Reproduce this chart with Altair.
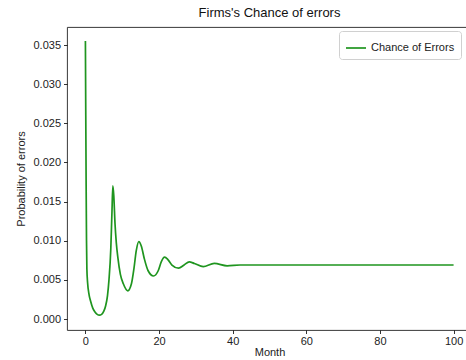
import altair as alt
import pandas as pd

months = [0, 0.1, 0.2, 0.3, 0.4, 0.6, 1.0, 1.4, 2.0, 2.6, 3.2, 3.8, 4.4, 5.0, 5.5,
          6.0, 6.4, 6.9, 7.2, 7.45, 7.7, 8.05, 8.4, 8.8, 9.5, 10.3, 11.5, 12.5,
          13.2, 13.8, 14.5, 15.2, 16.0, 17.0, 18.5, 19.8, 20.6, 21.5, 22.4, 23.5,
          25.3, 26.8, 28.2, 29.6, 32.0, 35.0, 38.5, 42.0, 46.0, 50, 60, 70, 80, 90, 100]
probability = [0.0355, 0.026, 0.017, 0.0100, 0.0064, 0.0046, 0.0031, 0.0023, 0.0014,
               0.0009, 0.0006, 0.0005, 0.0006, 0.0010, 0.0017, 0.0030, 0.0050, 0.0090,
               0.0135, 0.0170, 0.0158, 0.0121, 0.0097, 0.0079, 0.0057, 0.0045, 0.0036,
               0.0045, 0.0065, 0.0087, 0.0099, 0.0093, 0.0077, 0.0062, 0.0055, 0.0062,
               0.0073, 0.0079, 0.0076, 0.0069, 0.0065, 0.0069, 0.0073, 0.0071, 0.0067,
               0.0071, 0.0068, 0.0069, 0.0069, 0.0069, 0.0069, 0.0069, 0.0069, 0.0069, 0.0069]
series_name = "Chance of Errors"
x_ticks = [0, 20, 40, 60, 80, 100]
y_ticks = [0.000, 0.005, 0.010, 0.015, 0.020, 0.025, 0.030, 0.035]

df = pd.DataFrame({"Month": months, "p": probability, "series": [series_name] * len(months)})

FONT = "Liberation Sans"

chart = alt.Chart(df).mark_line(strokeWidth=1.7, interpolate="monotone").encode(
    x=alt.X("Month:Q", scale=alt.Scale(domain=[-5, 105], nice=False, zero=False),
            axis=alt.Axis(values=x_ticks, title="Month", grid=False, domain=False,
                          tickColor="black", tickSize=3.5, tickWidth=0.8,
                          labelFontSize=11, titleFontSize=11, titleFontWeight="normal",
                          labelPadding=2, titlePadding=0, labelColor="#222", titleColor="#222")),
    y=alt.Y("p:Q", scale=alt.Scale(domain=[-0.0014, 0.0373], nice=False, zero=False),
            axis=alt.Axis(values=y_ticks, format=".3f", title="Probability of errors",
                          grid=False, domain=False, tickColor="black", tickSize=3.5,
                          tickWidth=0.8, labelFontSize=11, titleFontSize=11,
                          titleFontWeight="normal", labelPadding=3, titlePadding=6,
                          labelColor="#222", titleColor="#222")),
    color=alt.Color("series:N", scale=alt.Scale(range=["#1f951f"]),
                    legend=alt.Legend(title=None, orient="none", legendX=272, legendY=4,
                                      symbolType="stroke", symbolSize=400, symbolStrokeWidth=1.7,
                                      labelFontSize=11, labelColor="#222",
                                      strokeColor="#d0d0d0", fillColor="white",
                                      cornerRadius=3, padding=6)),
).properties(
    width=405,
    height=303,
    title=alt.Title("Firms's Chance of errors", fontSize=13, fontWeight="normal",
                    color="#111", offset=7),
    autosize=alt.AutoSizeParams(type="none"),
    padding={"left": 67, "top": 27, "right": -6, "bottom": 30},
).configure(font=FONT).configure_view(stroke="#222", strokeWidth=0.9)

chart.save("out.html", embed_options={"renderer": "svg", "actions": False})
